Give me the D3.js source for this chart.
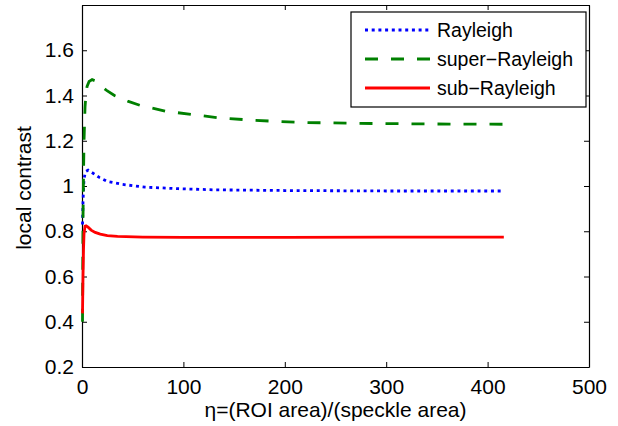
<!DOCTYPE html>
<html>
<head>
<meta charset="utf-8">
<script src="https://cdn.jsdelivr.net/npm/d3@7"></script>
<style>
    body { margin: 0; background: #fff; }
    svg { font-family: "Liberation Sans", Arial, sans-serif; }
</style>
</head>
<body>
<div id="chart"></div>
<script>
// Local contrast vs eta for three speckle statistics

// Data
var rayleighEta = [0.5, 1, 1.5, 2, 3, 4, 6, 9, 13, 17, 25, 40, 62, 95, 131, 200, 300, 416];
var rayleighVal = [0.83, 0.93, 0.99, 1.03, 1.055, 1.065, 1.07, 1.062, 1.05, 1.038, 1.02, 1.007, 0.995, 0.988, 0.983, 0.98, 0.978, 0.978];

var superEta = [0.5, 1, 1.5, 2, 3, 4, 5, 7, 10, 13, 18, 25, 32, 45, 57, 82, 108, 134, 170, 215, 290, 350, 416];
var superVal = [0.40, 0.85, 1.05, 1.2, 1.35, 1.41, 1.44, 1.462, 1.47, 1.465, 1.445, 1.42, 1.40, 1.375, 1.357, 1.331, 1.316, 1.302, 1.29, 1.281, 1.276, 1.274, 1.273];

var subEta = [0.5, 1, 1.5, 2, 3, 4, 6, 9, 13, 18, 25, 35, 60, 100, 200, 300, 416];
var subVal = [0.437, 0.6, 0.72, 0.79, 0.822, 0.824, 0.818, 0.805, 0.795, 0.787, 0.781, 0.777, 0.774, 0.773, 0.773, 0.774, 0.774];

var seriesNames = ["Rayleigh", "super\u2212Rayleigh", "sub\u2212Rayleigh"];
var seriesColors = ["#0000ff", "#008000", "#ff0000"];
var seriesDash = ["3,3.7", "13,13", null];

var xTicks = [0, 100, 200, 300, 400, 500];
var yTicks = [0.2, 0.4, 0.6, 0.8, 1, 1.2, 1.4, 1.6];

// Size of the drawing (note: "top" is a reserved window name, so use plot*)
var width = 618,
    height = 426,
    plotLeft = 82,
    plotRight = 589,
    plotTop = 5,
    plotBottom = 367,
    fontSize = "21px";

var svg = d3.select("#chart")
    .append("svg")
    .attr("width", width)
    .attr("height", height);

var x = d3.scaleLinear().domain([0, 500]).range([plotLeft, plotRight]);
var y = d3.scaleLinear().domain([0.2, 1.8]).range([plotBottom, plotTop]);

// Axes, ticks pointing inward on all four sides
function styleAxis(g) {
    g.selectAll("path").attr("stroke", "#000").attr("stroke-width", 1.2);
    g.selectAll("line").attr("stroke", "#000").attr("stroke-width", 1);
    g.selectAll("text")
        .attr("fill", "#000")
        .style("font-size", fontSize)
        .style("font-family", "'Liberation Sans', Arial, sans-serif");
}

svg.append("g")
    .attr("transform", "translate(0," + plotBottom + ")")
    .call(d3.axisBottom(x).tickValues(xTicks).tickSizeInner(-5).tickSizeOuter(0).tickPadding(12))
    .call(styleAxis);

svg.append("g")
    .attr("transform", "translate(0," + plotTop + ")")
    .call(d3.axisTop(x).tickValues(xTicks).tickSizeInner(-5).tickSizeOuter(0).tickFormat(""))
    .call(styleAxis);

svg.append("g")
    .attr("transform", "translate(" + plotLeft + ",0)")
    .call(d3.axisLeft(y).tickValues(yTicks).tickSizeInner(-5).tickSizeOuter(0).tickPadding(8)
        .tickFormat(function(d) { return String(+d.toFixed(1)); }))
    .call(styleAxis);

svg.append("g")
    .attr("transform", "translate(" + plotRight + ",0)")
    .call(d3.axisRight(y).tickValues(yTicks).tickSizeInner(-5).tickSizeOuter(0).tickFormat(""))
    .call(styleAxis);

// Axis titles
svg.append("text")
    .attr("x", (plotLeft + plotRight) / 2)
    .attr("y", 417)
    .attr("text-anchor", "middle")
    .style("font-size", fontSize)
    .text("\u03b7=(ROI area)/(speckle area)");

svg.append("text")
    .attr("transform", "translate(31,188) rotate(-90)")
    .attr("text-anchor", "middle")
    .style("font-size", fontSize)
    .text("local contrast");

// Curves
var line = d3.line()
    .x(function(d) { return x(d[0]); })
    .y(function(d) { return y(d[1]); });

var allEta = [rayleighEta, superEta, subEta];
var allVal = [rayleighVal, superVal, subVal];

for (let i = 0; i < 3; i++) {
    let pts = allEta[i].map(function(e, j) { return [e, allVal[i][j]]; });
    svg.append("path")
        .datum(pts)
        .attr("d", line)
        .attr("fill", "none")
        .attr("stroke", seriesColors[i])
        .attr("stroke-width", 2.8)
        .attr("stroke-dasharray", seriesDash[i]);
}

// Legend
var legend = svg.append("g");
legend.append("rect")
    .attr("x", 351)
    .attr("y", 12)
    .attr("width", 235)
    .attr("height", 95)
    .attr("fill", "#fff")
    .attr("stroke", "#000")
    .attr("stroke-width", 1.2);

var rowY = [30, 59, 88];
for (let i = 0; i < 3; i++) {
    legend.append("line")
        .attr("x1", 365)
        .attr("x2", 430)
        .attr("y1", rowY[i])
        .attr("y2", rowY[i])
        .attr("stroke", seriesColors[i])
        .attr("stroke-width", 2.8)
        .attr("stroke-dasharray", seriesDash[i]);
    legend.append("text")
        .attr("x", 437)
        .attr("y", rowY[i])
        .attr("dy", "0.35em")
        .style("font-size", "19.5px")
        .text(seriesNames[i]);
}
</script>
</body>
</html>
